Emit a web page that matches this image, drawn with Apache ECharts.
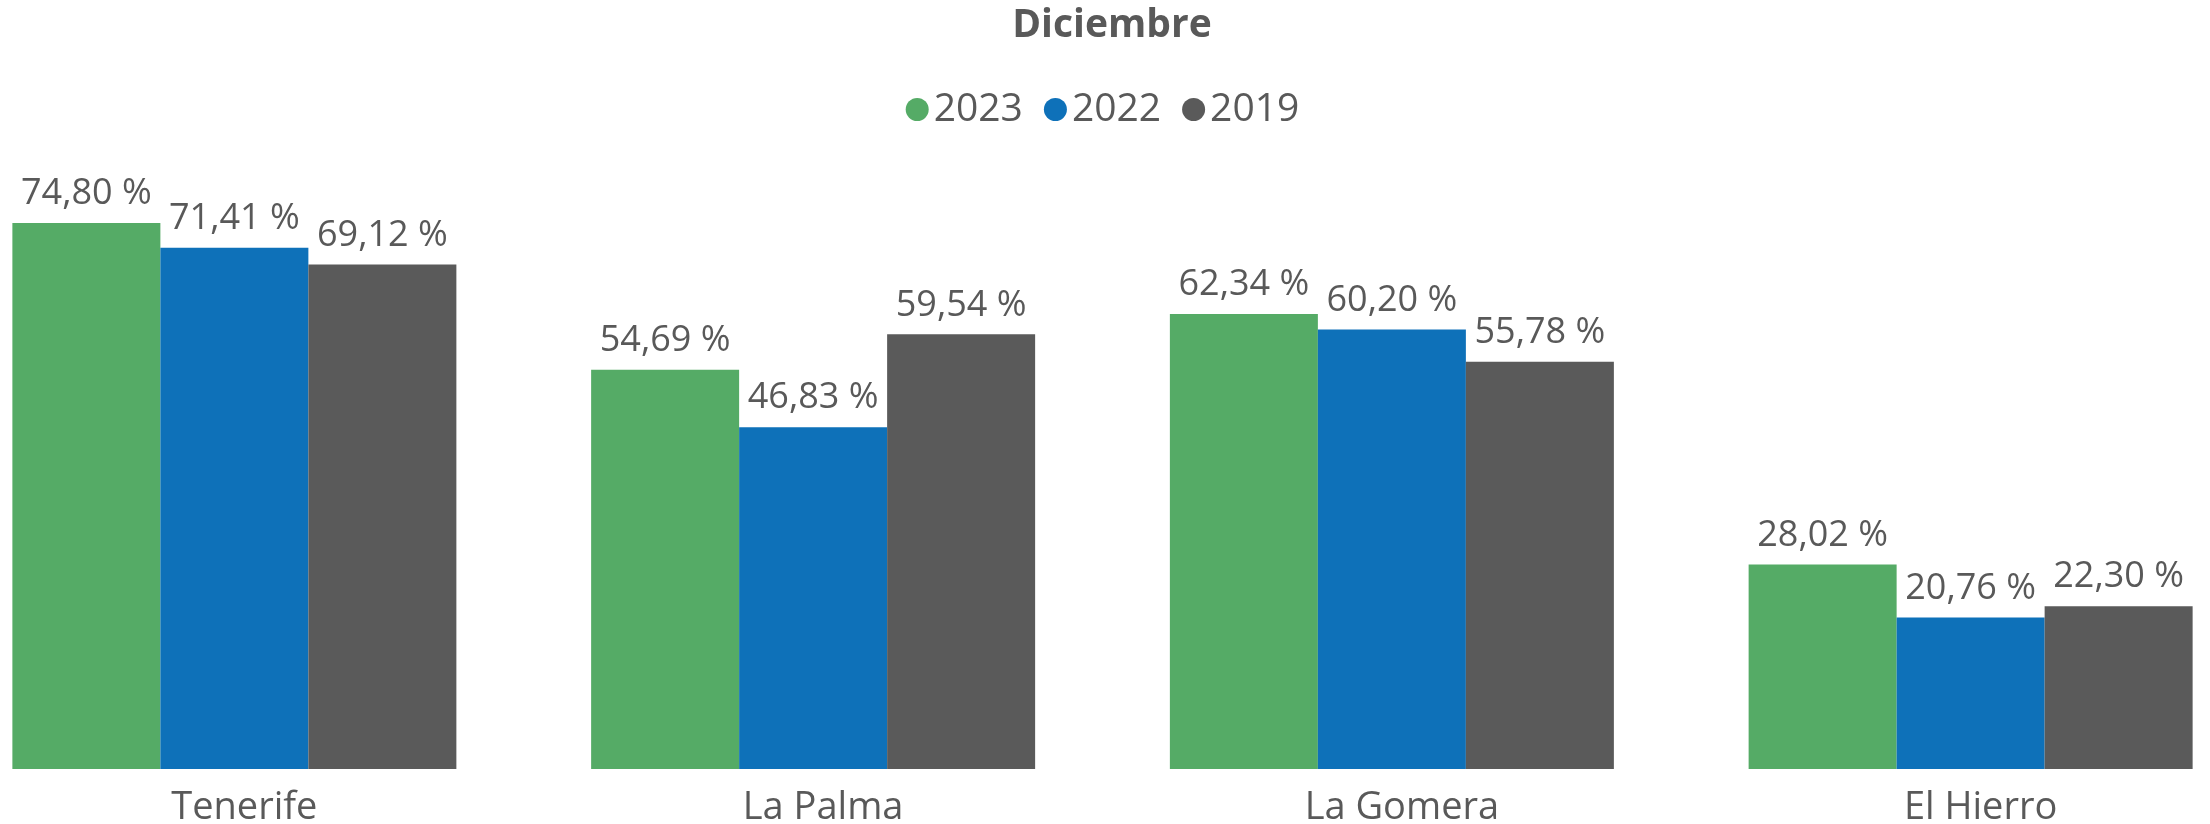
<!DOCTYPE html>
<html>
<head>
<meta charset="utf-8">
<script src="https://cdn.jsdelivr.net/npm/echarts@6/dist/echarts.min.js"></script>
<style>html,body{margin:0;padding:0;background:#fff;overflow:hidden;width:2210px;height:824px;}#c{width:2315px;height:824px;margin-left:-55px;}</style>
</head>
<body>
<div id="c"></div>
<script>
const categories = ['Tenerife', 'La Palma', 'La Gomera', 'El Hierro'];
const seriesNames = ['2023', '2022', '2019'];
const values2023 = [74.80, 54.69, 62.34, 28.02];
const values2022 = [71.41, 46.83, 60.20, 20.76];
const values2019 = [69.12, 59.54, 55.78, 22.30];
const colors = ['#55AB66', '#0E71B9', '#5A5A5A'];
const textColor = '#595959';
const font = '"Open Sans", "Noto Sans", sans-serif';

const fmt = p => p.value.toFixed(2).replace('.', ',') + ' %';
const mk = (name, data, color) => ({
  name, type: 'bar', data, barWidth: 148, barGap: '0%',
  itemStyle: { color },
  label: { show: true, position: 'top', distance: 11, formatter: fmt,
           color: textColor, fontSize: 36, fontFamily: font }
});

const chart = echarts.init(document.getElementById('c'));
chart.setOption({
  animation: false,
  title: { text: 'Diciembre', left: 1167, top: 6, padding: 0, textAlign: 'center',
           textStyle: { color: textColor, fontSize: 39, fontWeight: 'bold', fontFamily: font } },
  legend: { top: 85, left: 'center', icon: 'circle', itemWidth: 23, itemHeight: 23,
            itemGap: 21, itemTextGap: 10, padding: [5, 0, 5, 8],
            textStyle: { color: textColor, fontSize: 39, fontFamily: font },
            data: seriesNames },
  grid: { left: 0, right: 0, top: 39, bottom: 55, containLabel: false, outerBoundsMode: 'none' },
  xAxis: { type: 'category', data: categories,
           axisLine: { show: false }, axisTick: { show: false },
           axisLabel: { color: textColor, fontSize: 38, fontFamily: font, margin: 20,
                        padding: [0, 0, 0, 20] } },
  yAxis: { type: 'value', min: 0, max: 100, show: false, splitLine: { show: false } },
  series: [
    mk(seriesNames[0], values2023, colors[0]),
    mk(seriesNames[1], values2022, colors[1]),
    mk(seriesNames[2], values2019, colors[2])
  ]
});
</script>
</body>
</html>
